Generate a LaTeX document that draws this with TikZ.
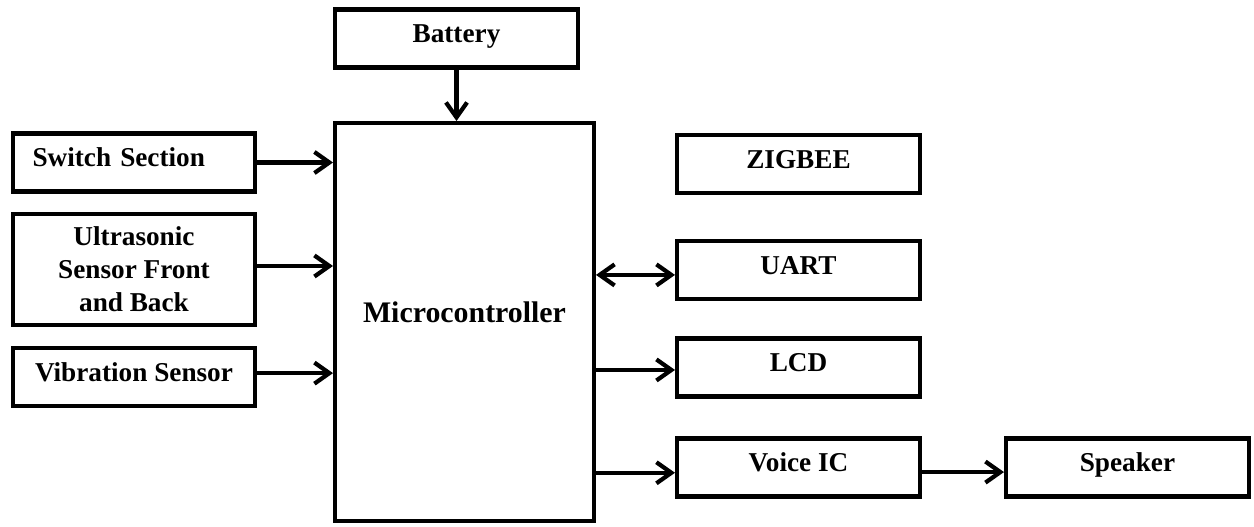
\documentclass[tikz,border=0pt]{standalone}
\usepackage{fontspec}
\setmainfont{Liberation Serif}
\usetikzlibrary{arrows.meta}

\tikzset{
  box/.style={draw,line width=2.3pt,minimum width=4.86cm,minimum height=1.16cm,inner sep=0pt,font=\bfseries\fontsize{15.5}{18.7}\selectfont},
  onebox/.style={box,text height=10.5pt,text depth=5.5pt},
  arr/.style={line width=2.4pt,-{Straight Barb[length=8.5pt,width=12pt]}},
  dbl/.style={arr,{Straight Barb[length=8.5pt,width=12pt]}-{Straight Barb[length=8.5pt,width=12pt]}}
}

\begin{document}
\begin{tikzpicture}[x=0.02cm,y=-0.02cm]
    \useasboundingbox (0,0) rectangle (1254,527);

    \node[onebox] (bat) at (456.5,38.5) {Battery};
    \node[box,minimum width=5.18cm,minimum height=7.96cm,font=\bfseries\fontsize{17}{20}\selectfont,text height=11.5pt,text depth=11pt] (mcu) at (464.5,322) {Microcontroller};

    \node[onebox,text width=4.06cm,align=left] (sw) at (134,162.5) {Switch Section};
    \node[box,minimum height=2.22cm,align=center] (us) at (134,269.5) {Ultrasonic\\Sensor Front\\and Back};
    \node[onebox] (vib) at (134,377) {Vibration Sensor};

    \node[onebox] (zig) at (798.5,164) {ZIGBEE};
    \node[onebox] (uart) at (798.5,270) {UART};
    \node[onebox] (lcd) at (798.5,367.5) {LCD};
    \node[onebox] (voice) at (798.5,467.5) {Voice IC};
    \node[onebox] (spk) at (1127.5,467.5) {Speaker};

    \draw[arr] (bat) -- (bat |- mcu.north);
    \draw[arr] (sw) -- (sw -| mcu.west);
    \draw[arr] ([yshift=2pt]us.east) -- ([yshift=2pt]us.east -| mcu.west);
    \draw[arr] ([yshift=2.2pt]vib.east) -- ([yshift=2.2pt]vib.east -| mcu.west);
    \draw[dbl] ([yshift=-2.8pt]uart.west -| mcu.east) -- ([yshift=-2.8pt]uart.west);
    \draw[arr] ([yshift=-1.4pt]lcd.west -| mcu.east) -- ([yshift=-1.4pt]lcd.west);
    \draw[arr] ([yshift=-3pt]voice.west -| mcu.east) -- ([yshift=-3pt]voice.west);
    \draw[arr] ([yshift=-2.6pt]voice.east) -- ([yshift=-2.6pt]spk.west);
\end{tikzpicture}
\end{document}
